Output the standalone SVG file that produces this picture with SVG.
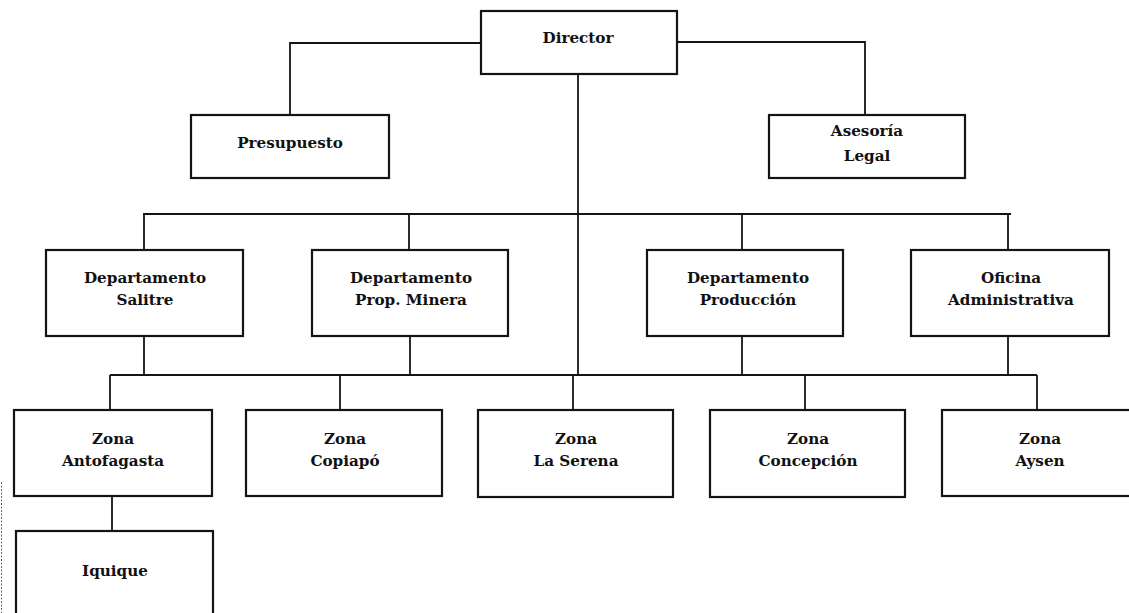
<svg xmlns="http://www.w3.org/2000/svg" width="1129" height="613" viewBox="0 0 1129 613">
  <style>
    .box { fill: #ffffff; stroke: #141414; stroke-width: 2.2; }
    .lbl { font-family: "DejaVu Serif", "Liberation Serif", serif; font-weight: bold; font-size: 15.2px; fill: #111111; text-anchor: middle; }
    .con { fill: none; stroke: #141414; stroke-width: 1.8; }
    .scan { fill: none; stroke: #666666; stroke-width: 1; stroke-dasharray: 2 1.5; }
  </style>
  <rect x="0" y="0" width="1129" height="613" fill="#ffffff"/>

  <g id="connectors">
    <path class="con" d="M481,43 H290 V115"/>
    <path class="con" d="M677,42 H865 V115"/>
    <path class="con" d="M578,74 V375"/>
    <path class="con" d="M143,214 H1011"/>
    <path class="con" d="M144,214 V250"/>
    <path class="con" d="M409,214 V250"/>
    <path class="con" d="M742,214 V250"/>
    <path class="con" d="M1008,214 V250"/>
    <path class="con" d="M144,336 V375"/>
    <path class="con" d="M410,336 V375"/>
    <path class="con" d="M742,336 V375"/>
    <path class="con" d="M1008,336 V375"/>
    <path class="con" d="M110,375 H1037"/>
    <path class="con" d="M110,375 V410"/>
    <path class="con" d="M340,375 V410"/>
    <path class="con" d="M573,375 V410"/>
    <path class="con" d="M805,375 V410"/>
    <path class="con" d="M1037,375 V410"/>
    <path class="con" d="M112,496 V531"/>
  </g>

  <g id="director">
    <rect class="box" x="481" y="11" width="196" height="63"/>
    <text class="lbl" x="578" y="43">Director</text>
  </g>
  <g id="presupuesto">
    <rect class="box" x="191" y="115" width="198" height="63"/>
    <text class="lbl" x="290" y="148">Presupuesto</text>
  </g>
  <g id="asesoria-legal">
    <rect class="box" x="769" y="115" width="196" height="63"/>
    <text class="lbl" x="867" y="136">Asesoría</text>
    <text class="lbl" x="867" y="161">Legal</text>
  </g>
  <g id="dept-salitre">
    <rect class="box" x="46" y="250" width="197" height="86"/>
    <text class="lbl" x="145" y="283">Departamento</text>
    <text class="lbl" x="145" y="305">Salitre</text>
  </g>
  <g id="dept-prop-minera">
    <rect class="box" x="312" y="250" width="196" height="86"/>
    <text class="lbl" x="411" y="283">Departamento</text>
    <text class="lbl" x="411" y="305">Prop. Minera</text>
  </g>
  <g id="dept-produccion">
    <rect class="box" x="647" y="250" width="196" height="86"/>
    <text class="lbl" x="748" y="283">Departamento</text>
    <text class="lbl" x="748" y="305">Producción</text>
  </g>
  <g id="oficina-administrativa">
    <rect class="box" x="911" y="250" width="198" height="86"/>
    <text class="lbl" x="1011" y="283">Oficina</text>
    <text class="lbl" x="1011" y="305">Administrativa</text>
  </g>
  <g id="zona-antofagasta">
    <rect class="box" x="14" y="410" width="198" height="86"/>
    <text class="lbl" x="113" y="444">Zona</text>
    <text class="lbl" x="113" y="466">Antofagasta</text>
  </g>
  <g id="zona-copiapo">
    <rect class="box" x="246" y="410" width="196" height="86"/>
    <text class="lbl" x="345" y="444">Zona</text>
    <text class="lbl" x="345" y="466">Copiapó</text>
  </g>
  <g id="zona-la-serena">
    <rect class="box" x="478" y="410" width="195" height="87"/>
    <text class="lbl" x="576" y="444">Zona</text>
    <text class="lbl" x="576" y="466">La Serena</text>
  </g>
  <g id="zona-concepcion">
    <rect class="box" x="710" y="410" width="195" height="87"/>
    <text class="lbl" x="808" y="444">Zona</text>
    <text class="lbl" x="808" y="466">Concepción</text>
  </g>
  <g id="zona-aysen">
    <rect class="box" x="942" y="410" width="197" height="86"/>
    <text class="lbl" x="1040" y="444">Zona</text>
    <text class="lbl" x="1040" y="466">Aysen</text>
  </g>
  <g id="iquique">
    <rect class="box" x="16" y="531" width="197" height="95"/>
    <text class="lbl" x="115" y="576">Iquique</text>
  </g>

  <path class="scan" d="M1.5,482 V613"/>
</svg>
